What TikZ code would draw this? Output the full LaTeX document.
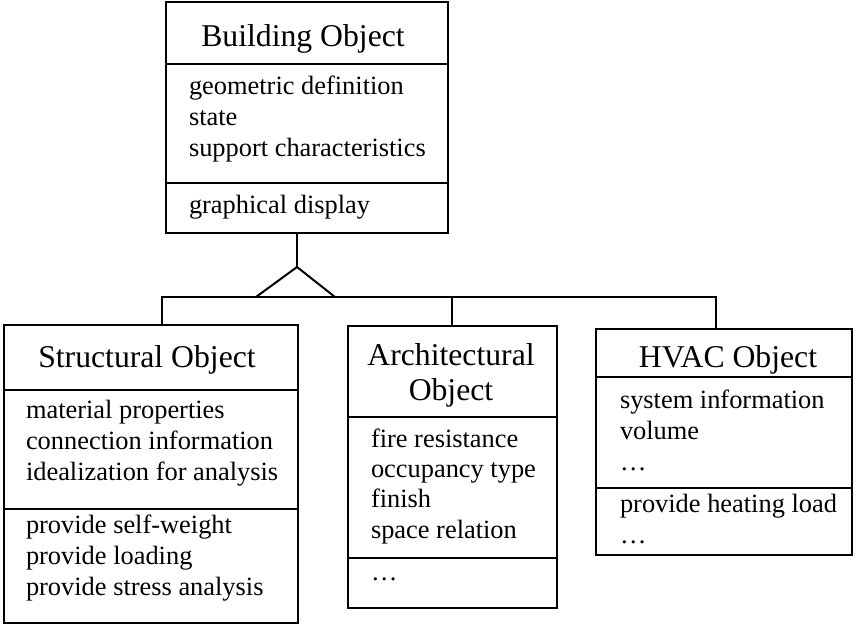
\documentclass[tikz,border=0pt]{standalone}
\usepackage{fontspec}
\setmainfont{Liberation Serif}
\usetikzlibrary{calc}
\begin{document}
\begin{tikzpicture}[x=1pt,y=-1pt,line width=2pt,
  classbox/.style={draw,rectangle,anchor=north west,inner sep=0pt,outer sep=0pt},
  ttl/.style={font=\fontsize{31.7}{35}\selectfont,inner sep=0pt,anchor=base,align=center},
  body/.style={font=\fontsize{26.4}{31}\selectfont,inner sep=0pt,anchor=base west,align=left},
]
\useasboundingbox (0,0) rectangle (856,626);

% class boxes
\node[classbox,minimum width=282pt,minimum height=231pt] (bo) at (166,2) {};
\node[classbox,minimum width=294pt,minimum height=298pt] (so) at (4,325) {};
\node[classbox,minimum width=209pt,minimum height=282pt] (ao) at (348,326) {};
\node[classbox,minimum width=256pt,minimum height=226pt] (ho) at (596,329) {};

% compartment dividers
\draw (bo.west |- 0,64) -- (bo.east |- 0,64);
\draw (bo.west |- 0,183) -- (bo.east |- 0,183);
\draw (so.west |- 0,390) -- (so.east |- 0,390);
\draw (so.west |- 0,509) -- (so.east |- 0,509);
\draw (ao.west |- 0,417) -- (ao.east |- 0,417);
\draw (ao.west |- 0,558) -- (ao.east |- 0,558);
\draw (ho.west |- 0,377) -- (ho.east |- 0,377);
\draw (ho.west |- 0,488) -- (ho.east |- 0,488);

% titles (a multi-line node sits on the baseline of its last line)
\node[ttl] (boT) at (303,47) {Building Object};
\node[ttl] (soT) at (147,367) {Structural Object};
\node[ttl] (aoT) at (451,400) {Architectural\\Object};
\node[ttl] (hoT) at (728,367) {HVAC Object};

% attributes and operations
\node[body] (boA) at (188,156) {geometric definition\\state\\support characteristics};
\node[body] (boB) at (188,213) {graphical display};
\node[body] (soA) at (25,480) {material properties\\connection information\\idealization for analysis};
\node[body] (soB) at (25,595) {provide self-weight\\provide loading\\provide stress analysis};
\node[body,font=\fontsize{26.4}{30.3}\selectfont] (aoA) at (370,538) {fire resistance\\occupancy type\\finish\\space relation};
\node[body] (aoB) at (370,580) {\ldots};
\node[body] (hoA) at (619,470) {system information\\volume\\\ldots};
\node[body] (hoB) at (619,543) {provide heating load\\\ldots};

% generalization tree
\coordinate (apex) at (297,267);
\draw (bo.south -| apex) -- (apex);
\draw[line join=miter] ($(apex)+(-41,30)$) -- (apex) -- ($(apex)+(38,30)$);
\draw (so.north -| 162,0) -- (162,297) -- (716,297) -- (ho.north -| 716,0);
\draw (ao.north -| 452,0) -- (452,297);
\end{tikzpicture}
\end{document}
